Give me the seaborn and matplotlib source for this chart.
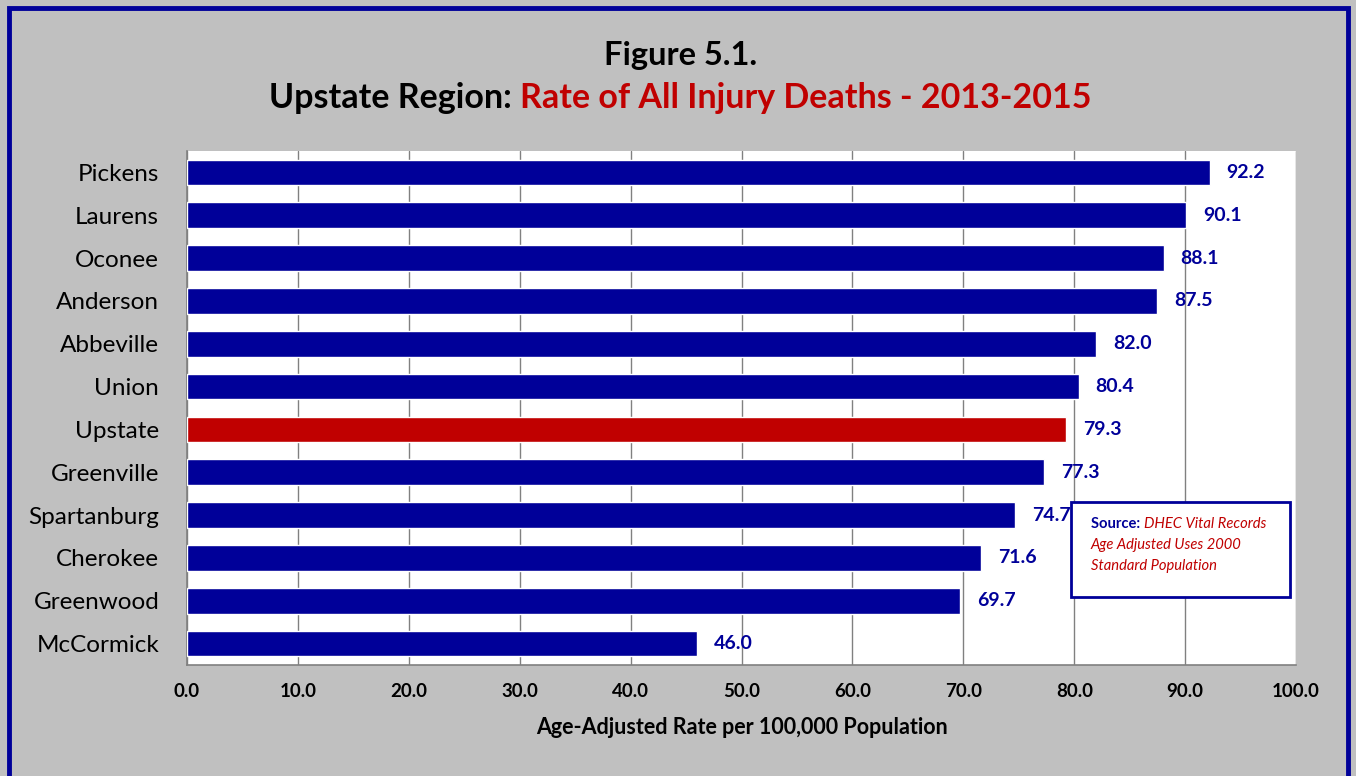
import matplotlib
matplotlib.use("Agg")
import matplotlib.pyplot as plt
import seaborn as sns
import pandas as pd
from matplotlib.patches import Rectangle

counties = ["Pickens", "Laurens", "Oconee", "Anderson", "Abbeville", "Union",
            "Upstate", "Greenville", "Spartanburg", "Cherokee", "Greenwood", "McCormick"]
rates = [92.2, 90.1, 88.1, 87.5, 82.0, 80.4, 79.3, 77.3, 74.7, 71.6, 69.7, 46.0]
highlight = "Upstate"

navy = "#000099"
red = "#C00000"
df = pd.DataFrame({"county": counties, "rate": rates})
palette = {c: (red if c == highlight else navy) for c in counties}

sns.set_style("white")
plt.rcParams["font.family"] = ["Lato", "DejaVu Sans"]
plt.rcParams["text.color"] = "black"
plt.rcParams["xtick.color"] = "black"
plt.rcParams["ytick.color"] = "black"
plt.rcParams["axes.labelcolor"] = "black"

fig = plt.figure(figsize=(13.56, 7.76), dpi=100, facecolor="#C0C0C0")
# outer navy frame
fig.patches.append(Rectangle((0.007, -0.01), 0.987, 1.0, transform=fig.transFigure,
                             fill=False, edgecolor=navy, linewidth=3.5))

ax = fig.add_axes([0.1379, 0.1430, 0.8179, 0.6624])
ax.set_facecolor("white")
sns.barplot(data=df, x="rate", y="county", hue="county", palette=palette,
            order=counties, width=0.6, saturation=1, legend=False, ax=ax, zorder=3)

ax.set_xlim(0, 100)
ax.set_xticks(range(0, 101, 10))
ax.set_xticklabels([f"{v:.1f}" for v in range(0, 101, 10)], fontsize=13.5, fontweight="bold")
ax.xaxis.grid(True, color="#808080", linewidth=1, zorder=0)
ax.set_axisbelow(True)
ax.set_ylabel("")
ax.set_xlabel("Age-Adjusted Rate per 100,000 Population", fontsize=15.5,
              fontweight="bold", labelpad=12)
ax.tick_params(axis="y", labelsize=17.5, length=0, pad=20)
ax.tick_params(axis="x", length=6, pad=10, direction="inout")
for lbl in ax.get_yticklabels():
    lbl.set_color("black")
for s in ["top", "right"]:
    ax.spines[s].set_visible(False)
for s in ["left", "bottom"]:
    ax.spines[s].set_color("#808080")
    ax.spines[s].set_linewidth(1.2)
ax.tick_params(axis="x", color="#808080")

# minor ticks between categories on the y axis
ax.set_yticks([i + 0.5 for i in range(-1, len(counties))], minor=True)
ax.tick_params(axis="y", which="minor", length=7, color="#808080")

for i, v in enumerate(rates):
    ax.text(v + 1.5, i, f"{v:.1f}", va="center", ha="left", color=navy,
            fontsize=14, fontweight="bold")

# source box
box = Rectangle((0.790, 0.231), 0.161, 0.122, transform=fig.transFigure,
                facecolor="white", edgecolor=navy, linewidth=2, zorder=5)
fig.patches.append(box)
t1 = fig.text(0.8045, 0.325, "Source: ", fontsize=10.6, fontweight="bold",
              color=navy, zorder=6, va="center")
fig.text(0.8045, 0.298, "Age Adjusted Uses 2000", fontsize=10.6, style="italic",
         color=red, zorder=6, va="center")
fig.text(0.8045, 0.271, "Standard Population", fontsize=10.6, style="italic",
         color=red, zorder=6, va="center")
fig.canvas.draw()
r = fig.canvas.get_renderer()
bb = t1.get_window_extent(r)
fig.text(bb.x1 / fig.bbox.width, 0.325, "DHEC Vital Records", fontsize=10.6,
         style="italic", color=red, zorder=6, va="center")

# titles
fig.text(0.502, 0.929, "Figure 5.1.", ha="center", va="center", fontsize=23.5,
         fontweight="bold", color="black")
a = fig.text(0, 0.874, "Upstate Region: ", va="center", fontsize=24.5,
             fontweight="bold", color="black")
b = fig.text(0, 0.874, "Rate of All Injury Deaths - 2013-2015", va="center",
             fontsize=24.5, fontweight="bold", color=red)
wa = a.get_window_extent(r).width / fig.bbox.width
wb = b.get_window_extent(r).width / fig.bbox.width
x0 = 0.502 - (wa + wb) / 2
a.set_x(x0)
b.set_x(x0 + wa)

fig.savefig("out.png", dpi=100, facecolor=fig.get_facecolor())
